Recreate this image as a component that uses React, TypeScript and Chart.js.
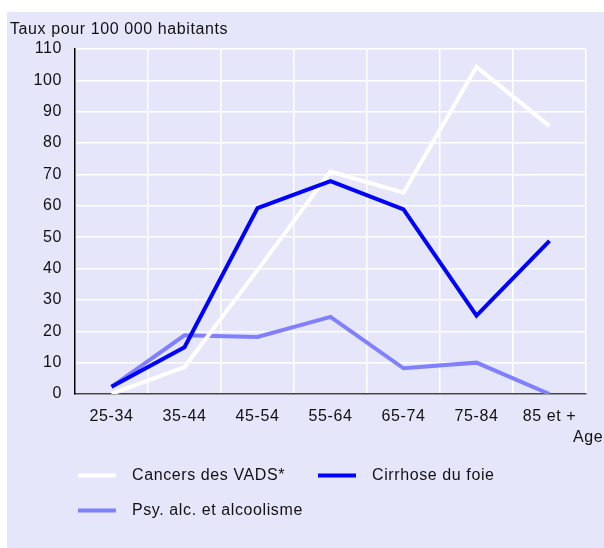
import React, { useEffect, useRef } from "react";
import { Chart, registerables } from "chart.js";

Chart.register(...registerables);

const categories = ["25-34", "35-44", "45-54", "55-64", "65-74", "75-84", "85 et +"];
const cancersVADS = [0, 8.6, 39.5, 70.9, 64.2, 104.3, 85.4];
const cirrhose = [2.3, 14.9, 59.3, 67.9, 58.9, 25, 48.8];
const psyAlc = [2.3, 18.7, 18.2, 24.6, 8.2, 10, 0];
const yTicks = [0, 10, 20, 30, 40, 50, 60, 70, 80, 90, 100, 110];
const labels = ["Cancers des VADS*", "Cirrhose du foie", "Psy. alc. et alcoolisme"];
const colors = ["#ffffff", "#0000ff", "#8080ff"];
const yTitle = "Taux pour 100 000 habitants";
const xTitle = "Age";

const FONT = "Liberation Sans, Arial, Helvetica, sans-serif";
const SIZE = 16;

const overlayPlugin = {
  id: "overlay",
  beforeDraw(chart: any) {
    try {
      chart.ctx.letterSpacing = "0.6px";
    } catch (e) {}
  },
  afterDraw(chart: any) {
    const ctx = chart.ctx;
    ctx.save();
    ctx.fillStyle = "#111";
    ctx.font = `${SIZE}px ${FONT}`;
    ctx.textBaseline = "middle";
    ctx.textAlign = "left";
    ctx.fillText(yTitle, 3, 18);
    ctx.fillText(xTitle, 566, 426);
    // legend
    const pos = [
      [71, 463.5],
      [311, 463.5],
      [71, 498.5],
    ];
    chart.data.datasets.forEach((ds: any, i: number) => {
      const [x, y] = pos[i];
      ctx.strokeStyle = ds.borderColor;
      ctx.lineWidth = 4;
      ctx.beginPath();
      ctx.moveTo(x, y);
      ctx.lineTo(x + 38, y);
      ctx.stroke();
      ctx.fillStyle = "#111";
      ctx.textAlign = "left";
      ctx.fillText(ds.label, x + 54, y);
    });
    ctx.restore();
  },
};

export default function App() {
  const ref = useRef<HTMLCanvasElement>(null);
  useEffect(() => {
    const chart = new Chart(ref.current!, {
      type: "line",
      data: {
        labels: categories,
        datasets: [
          { label: labels[0], data: cancersVADS, borderColor: colors[0], order: 1 },
          { label: labels[1], data: cirrhose, borderColor: colors[1], order: 0 },
          { label: labels[2], data: psyAlc, borderColor: colors[2], order: 2 },
        ].map((d) => ({ ...d, borderWidth: 4, pointRadius: 0, tension: 0, fill: false, backgroundColor: d.borderColor })),
      },
      options: {
        animation: false,
        responsive: false,
        maintainAspectRatio: false,
        layout: { padding: { top: 37, right: 18, left: 0, bottom: 0 } },
        plugins: { legend: { display: false }, tooltip: { enabled: false }, title: { display: false } },
        scales: {
          x: {
            type: "category",
            offset: true,
            grid: { color: "#ffffff", lineWidth: 1.5, drawTicks: false, offset: true },
            border: { color: "#444444", width: 1.5 },
            ticks: { color: "#111", font: { family: FONT, size: SIZE }, padding: 13, maxRotation: 0, autoSkip: false },
            afterFit: (s: any) => {
              s.height = 154;
            },
          },
          y: {
            min: 0,
            max: 110,
            afterBuildTicks: (s: any) => {
              s.ticks = yTicks.map((v) => ({ value: v }));
            },
            grid: { color: "#ffffff", lineWidth: 1.5, drawTicks: false },
            border: { color: "#000000", width: 1.5 },
            ticks: { color: "#111", font: { family: FONT, size: SIZE }, padding: 13 },
            afterFit: (s: any) => {
              s.width = 68;
            },
          },
        },
      },
      plugins: [overlayPlugin],
    } as any);
    return () => chart.destroy();
  }, []);
  return (
    <div
      style={{
        position: "fixed",
        left: 7,
        top: 12,
        width: 597,
        height: 536,
        background: "#e6e6fa",
      }}
    >
      <canvas ref={ref} width={597} height={536} style={{ display: "block" }} />
    </div>
  );
}
